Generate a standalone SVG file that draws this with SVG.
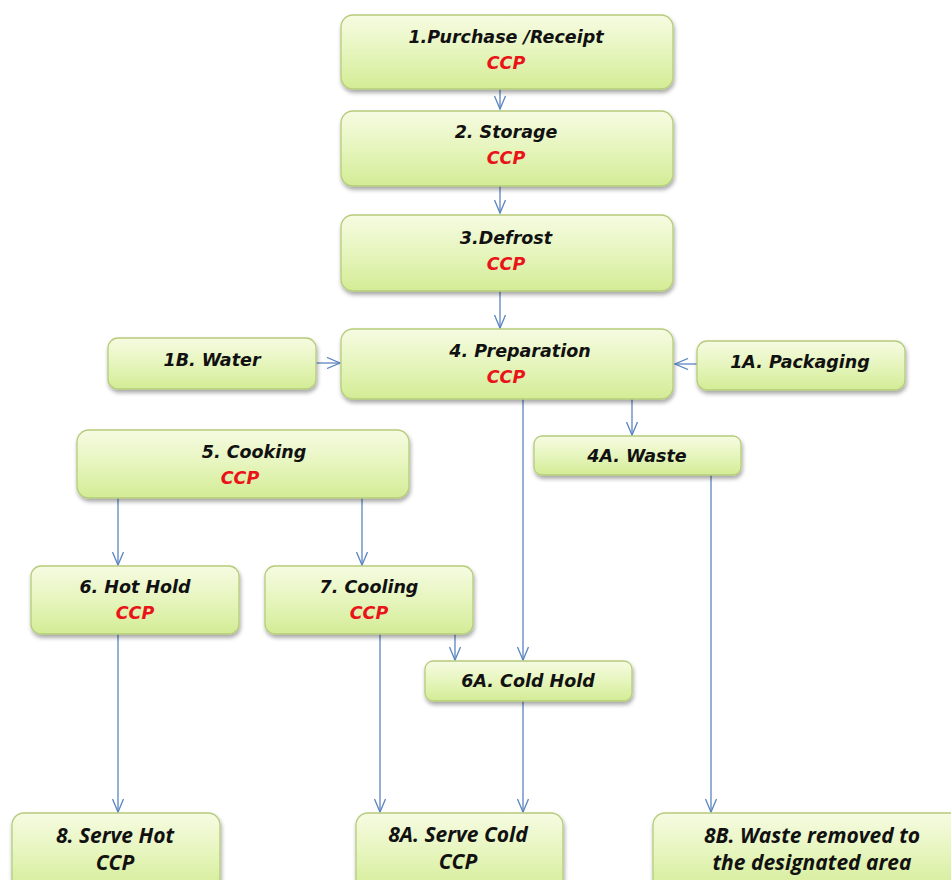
<svg xmlns="http://www.w3.org/2000/svg" width="951" height="880" viewBox="0 0 951 880">
<defs>
<linearGradient id="g" x1="0" y1="0" x2="0" y2="1">
<stop offset="0" stop-color="#f6fbe2"/>
<stop offset="0.5" stop-color="#e6f5bd"/>
<stop offset="1" stop-color="#d3ec95"/>
</linearGradient>
<filter id="sh" x="-10%" y="-20%" width="120%" height="150%">
<feGaussianBlur in="SourceAlpha" stdDeviation="2"/>
<feOffset dx="1" dy="3" result="b"/>
<feComponentTransfer><feFuncA type="linear" slope="0.35"/></feComponentTransfer>
<feMerge><feMergeNode/><feMergeNode in="SourceGraphic"/></feMerge>
</filter>
<marker id="a" markerWidth="16" markerHeight="12" refX="14" refY="6" orient="auto" markerUnits="userSpaceOnUse">
<path d="M1,0.5 L14,6 L1,11.5" fill="none" stroke="#5b84c0" stroke-width="1.3"/>
</marker>
</defs>
<style>
.box{fill:url(#g);stroke:#b5cc7a;stroke-width:1.3;filter:url(#sh)}
.t{font-family:"DejaVu Sans",sans-serif;font-weight:bold;font-style:italic;font-size:17.5px;fill:#111;text-anchor:middle}
.c{fill:#e8141a}
.b{font-family:"Open Sans","Liberation Sans",sans-serif;font-weight:bold;font-style:italic;font-size:21px;fill:#111;text-anchor:middle}
.cn line{stroke:#5b84c0;stroke-width:1.3;marker-end:url(#a)}
</style>
<rect width="951" height="880" fill="#fff"/>
<g class="cn">
<line x1="500" y1="89" x2="500" y2="109"/>
<line x1="500" y1="186" x2="500" y2="213"/>
<line x1="500" y1="291" x2="500" y2="328"/>
<line x1="316" y1="363" x2="340" y2="363"/>
<line x1="697" y1="364" x2="675" y2="364"/>
<line x1="632" y1="399" x2="632" y2="435"/>
<line x1="523" y1="399" x2="523" y2="660"/>
<line x1="118" y1="498" x2="118" y2="565"/>
<line x1="362" y1="498" x2="362" y2="565"/>
<line x1="455" y1="634" x2="455" y2="660"/>
<line x1="118" y1="634" x2="118" y2="812"/>
<line x1="380" y1="634" x2="380" y2="812"/>
<line x1="523" y1="701" x2="523" y2="812"/>
<line x1="711" y1="475" x2="711" y2="812"/>
</g>
<g id="n1"><rect class="box" x="341" y="15" width="332" height="74" rx="12"/><text class="t" x="506" y="43">1.Purchase /Receipt</text><text class="t c" x="506" y="69">CCP</text></g>
<g id="n2"><rect class="box" x="341" y="111" width="332" height="75" rx="12"/><text class="t" x="506" y="138">2. Storage</text><text class="t c" x="506" y="164">CCP</text></g>
<g id="n3"><rect class="box" x="341" y="215" width="332" height="76" rx="12"/><text class="t" x="506" y="244">3.Defrost</text><text class="t c" x="506" y="270">CCP</text></g>
<g id="n4"><rect class="box" x="341" y="329" width="332" height="70" rx="12"/><text class="t" x="520" y="357">4. Preparation</text><text class="t c" x="506" y="383">CCP</text></g>
<g id="n1b"><rect class="box" x="108" y="338" width="208" height="51" rx="10"/><text class="t" x="212" y="366">1B. Water</text></g>
<g id="n1a"><rect class="box" x="697" y="341" width="208" height="49" rx="10"/><text class="t" x="800" y="368">1A. Packaging</text></g>
<g id="n4a"><rect class="box" x="534" y="436" width="207" height="39" rx="8"/><text class="t" x="637" y="462">4A. Waste</text></g>
<g id="n5"><rect class="box" x="77" y="430" width="332" height="68" rx="12"/><text class="t" x="254" y="458">5. Cooking</text><text class="t c" x="240" y="484">CCP</text></g>
<g id="n6"><rect class="box" x="31" y="566" width="208" height="68" rx="10"/><text class="t" x="135" y="593">6. Hot Hold</text><text class="t c" x="135" y="619">CCP</text></g>
<g id="n7"><rect class="box" x="265" y="566" width="208" height="68" rx="10"/><text class="t" x="369" y="593">7. Cooling</text><text class="t c" x="369" y="619">CCP</text></g>
<g id="n6a"><rect class="box" x="425" y="661" width="207" height="40" rx="8"/><text class="t" x="528" y="687">6A. Cold Hold</text></g>
<g id="n8"><rect class="box" x="12" y="813" width="208" height="80" rx="12"/><text class="b" x="115" y="843">8. Serve Hot</text><text class="b c" x="115" y="870">CCP</text></g>
<g id="n8a"><rect class="box" x="356" y="813" width="207" height="80" rx="12"/><text class="b" x="458" y="842">8A. Serve Cold</text><text class="b c" x="458" y="869">CCP</text></g>
<g id="n8b"><rect class="box" x="653" y="813" width="310" height="80" rx="12"/><text class="b" x="812" y="843">8B. Waste removed to</text><text class="b" x="812" y="870">the designated  area</text></g>
</svg>
